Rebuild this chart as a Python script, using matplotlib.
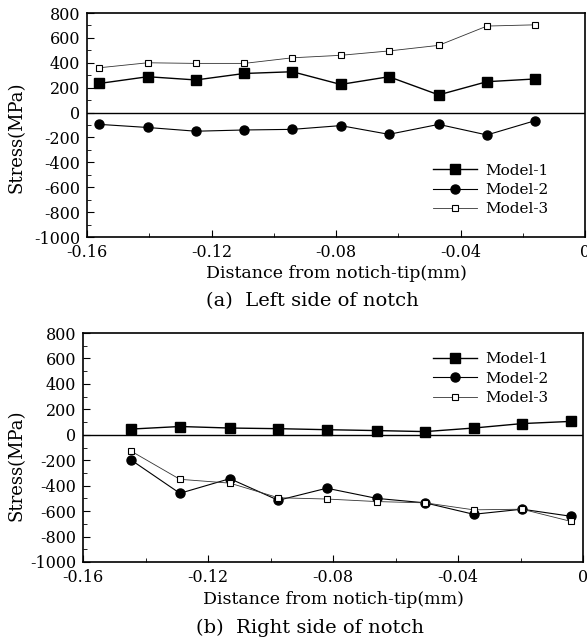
import matplotlib
matplotlib.use("Agg")
import matplotlib.pyplot as plt
from matplotlib.ticker import MultipleLocator

# Left side of notch (a)
x_left = [-0.156, -0.1405, -0.125, -0.1095, -0.094, -0.0785, -0.063, -0.047, -0.0315, -0.016]
m1_left = [234, 288, 262, 314, 328, 226, 288, 142, 248, 270]
m2_left = [-95, -120, -150, -140, -135, -105, -175, -95, -180, -65]
m3_left = [360, 400, 395, 395, 440, 460, 495, 540, 695, 705]

# Right side of notch (b)
x_right = [-0.1445, -0.129, -0.113, -0.0975, -0.082, -0.066, -0.0505, -0.035, -0.0195, -0.004]
m1_right = [45, 65, 53, 48, 40, 33, 25, 53, 88, 105]
m2_right = [-200, -460, -345, -515, -420, -500, -535, -625, -585, -640]
m3_right = [-130, -350, -380, -495, -505, -525, -535, -590, -585, -680]

labels = ["Model-1", "Model-2", "Model-3"]
xticks = [-0.16, -0.12, -0.08, -0.04, 0]
xticklabels = ["-0.16", "-0.12", "-0.08", "-0.04", "0"]
yticks = [800, 600, 400, 200, 0, -200, -400, -600, -800, -1000]

plt.rcParams['font.family'] = ['DejaVu Serif']
W, H = 587, 643
fig = plt.figure(figsize=(W / 100, H / 100), dpi=100)

def make_ax(l, t, r, b):
    return fig.add_axes([l / W, 1 - b / H, (r - l) / W, (b - t) / H])

ax1 = make_ax(87, 13, 585, 237)
ax2 = make_ax(83, 333, 583, 562)

def style(ax, xs, s1, s2, s3, leg_anchor, xlab_y, ylab_xy):
    ax.plot(xs, s1, '-', color='black', lw=1.0, marker='s', ms=6.5, mfc='black', mec='black', label=labels[0])
    ax.plot(xs, s2, '-', color='black', lw=0.8, marker='o', ms=6.5, mfc='black', mec='black', label=labels[1])
    ax.plot(xs, s3, '-', color='#333333', lw=0.6, marker='s', ms=4.5, mfc='white', mec='black', mew=0.8, label=labels[2])
    ax.axhline(0, color='black', lw=1.0)
    ax.set_xlim(-0.16, 0)
    ax.set_ylim(-1000, 800)
    ax.set_xticks(xticks)
    ax.set_xticklabels(xticklabels)
    ax.set_yticks(yticks)
    ax.set_yticklabels([str(v) for v in yticks])
    ax.xaxis.set_minor_locator(MultipleLocator(0.02))
    ax.yaxis.set_minor_locator(MultipleLocator(100))
    ax.tick_params(which='both', direction='in', top=False, right=False, labelsize=11.5)
    ax.tick_params(axis='x', pad=5)
    ax.tick_params(axis='y', pad=5)
    ax.tick_params(which='major', length=5)
    ax.tick_params(which='minor', length=3)
    for sp in ax.spines.values():
        sp.set_linewidth(1.2)
    ax.set_ylabel("Stress(MPa)", fontsize=13)
    ax.set_xlabel("Distance from notich-tip(mm)", fontsize=12.5)
    ax.xaxis.set_label_coords(0.5, xlab_y)
    ax.xaxis.label.set_va('center')
    ax.yaxis.set_label_coords(*ylab_xy)
    ax.yaxis.label.set_va('center')
    ax.legend(loc='center left', bbox_to_anchor=leg_anchor, frameon=False, fontsize=11,
              handlelength=2.9, handletextpad=0.5, labelspacing=0.35, borderpad=0,
              borderaxespad=0)

style(ax1, x_left, m1_left, m2_left, m3_left, (0.695, 0.21),
      (237 - 273) / 224, ((17 - 87) / 498, 0.446))
style(ax2, x_right, m1_right, m2_right, m3_right, (0.70, 0.80),
      (562 - 600) / 229, ((17 - 83) / 500, 0.424))

fig.text(312 / W, 1 - 301 / H, "(a)  Left side of notch", ha='center', va='center', fontsize=14)
fig.text(310 / W, 1 - 628 / H, "(b)  Right side of notch", ha='center', va='center', fontsize=14)

fig.savefig("out.png", dpi=100)
